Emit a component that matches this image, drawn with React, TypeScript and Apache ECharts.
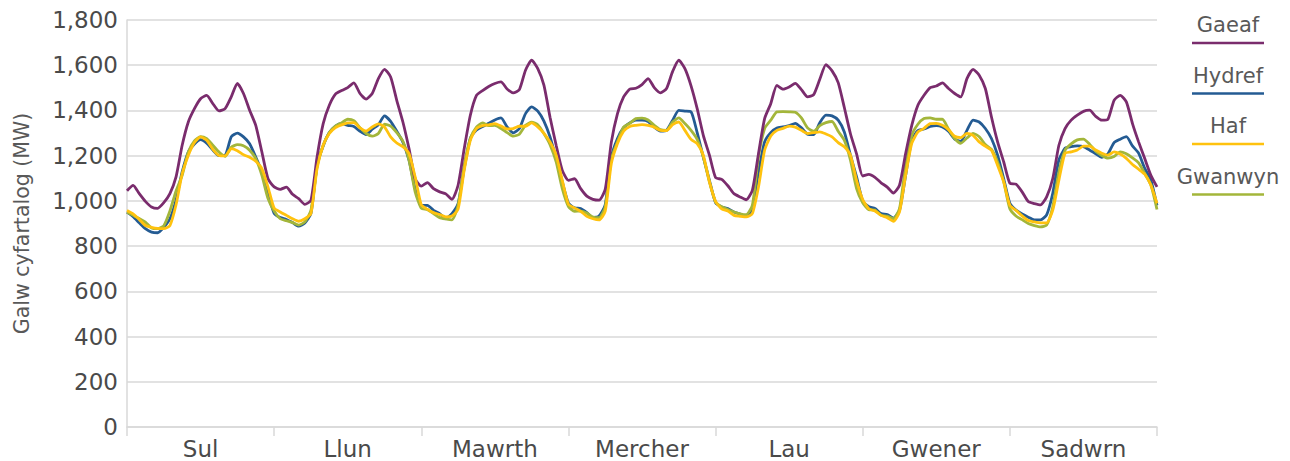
import React, { useEffect, useRef } from "react";
import * as echarts from "echarts";

const days = ["Sul", "Llun", "Mawrth", "Mercher", "Lau", "Gwener", "Sadwrn"];
const seriesNames = ["Gaeaf", "Hydref", "Haf", "Gwanwyn"];
const seriesColors = ["#7A2C6D", "#245B93", "#FFC20E", "#A3B63A"];
const yMin = 0;
const yMax = 1800;
const yStep = 200;
const yAxisTitle = "Galw cyfartalog (MW)";

// hourly averages, 24 values per day (Sul..Sadwrn) plus the closing value
const gaeaf = [
  1045, 1069, 1032, 998, 973, 967, 992, 1032, 1106, 1246, 1349, 1408, 1452, 1467, 1430, 1398, 1408, 1460, 1520, 1475, 1401, 1334, 1216, 1098,
  1062, 1051, 1061, 1029, 1010, 985, 1002, 1194, 1342, 1423, 1472, 1488, 1501, 1522, 1475, 1450, 1475, 1541, 1582, 1548, 1445, 1349, 1231, 1098,
  1065, 1081, 1054, 1040, 1031, 1007, 1069, 1231, 1379, 1467, 1488, 1506, 1519, 1526, 1495, 1478, 1492, 1578, 1622, 1585, 1512, 1370, 1246, 1135,
  1091, 1098, 1054, 1021, 1007, 1003, 1051, 1260, 1386, 1460, 1494, 1498, 1514, 1541, 1501, 1478, 1497, 1573, 1622, 1585, 1509, 1408, 1290, 1202,
  1103, 1095, 1067, 1032, 1017, 1005, 1047, 1209, 1364, 1430, 1511, 1494, 1504, 1520, 1492, 1460, 1470, 1538, 1603, 1575, 1523, 1413, 1297, 1208,
  1110, 1117, 1104, 1080, 1061, 1035, 1069, 1209, 1334, 1423, 1467, 1501, 1508, 1522, 1497, 1475, 1460, 1541, 1582, 1556, 1497, 1371, 1261, 1172,
  1078, 1074, 1040, 997, 988, 982, 1018, 1099, 1246, 1320, 1357, 1379, 1396, 1401, 1374, 1357, 1361, 1445, 1467, 1438, 1342, 1261, 1187, 1113,
  1062,
];
const hydref = [
  950, 930, 903, 877, 862, 859, 883, 921, 1004, 1128, 1216, 1252, 1271, 1255, 1225, 1200, 1202, 1283, 1300, 1283, 1253, 1194, 1128, 1032,
  945, 926, 918, 904, 888, 902, 944, 1157, 1243, 1302, 1331, 1343, 1334, 1329, 1308, 1293, 1317, 1337, 1376, 1352, 1308, 1260, 1180, 1054,
  980, 980, 958, 943, 921, 944, 988, 1143, 1276, 1313, 1329, 1343, 1358, 1367, 1327, 1301, 1320, 1386, 1416, 1397, 1353, 1283, 1187, 1084,
  990, 969, 966, 948, 927, 933, 983, 1194, 1276, 1324, 1345, 1357, 1357, 1351, 1326, 1309, 1312, 1357, 1400, 1397, 1394, 1302, 1194, 1091,
  992, 973, 966, 951, 942, 932, 966, 1128, 1261, 1302, 1322, 1327, 1333, 1343, 1323, 1295, 1293, 1346, 1379, 1376, 1357, 1305, 1202, 1106,
  1000, 974, 966, 944, 940, 924, 958, 1113, 1268, 1311, 1318, 1329, 1333, 1327, 1308, 1273, 1264, 1312, 1357, 1349, 1320, 1276, 1202, 1098,
  990, 960, 942, 928, 916, 916, 938, 1034, 1181, 1233, 1240, 1243, 1240, 1225, 1208, 1193, 1208, 1258, 1273, 1284, 1243, 1211, 1144, 1092,
  980,
];
const haf = [
  958, 943, 918, 891, 883, 878, 877, 891, 983, 1120, 1201, 1258, 1283, 1268, 1228, 1201, 1199, 1231, 1222, 1204, 1193, 1175, 1143, 1061,
  968, 951, 936, 921, 910, 921, 944, 1143, 1246, 1298, 1324, 1336, 1345, 1346, 1323, 1309, 1327, 1341, 1327, 1283, 1256, 1240, 1209, 1106,
  983, 963, 948, 940, 929, 933, 963, 1135, 1268, 1320, 1333, 1336, 1342, 1331, 1318, 1320, 1330, 1330, 1345, 1327, 1299, 1261, 1202, 1091,
  985, 969, 954, 932, 921, 916, 954, 1165, 1254, 1308, 1329, 1334, 1337, 1334, 1326, 1312, 1311, 1337, 1349, 1312, 1272, 1253, 1202, 1084,
  998, 965, 955, 936, 932, 929, 944, 1062, 1224, 1287, 1312, 1321, 1331, 1326, 1312, 1298, 1302, 1305, 1296, 1283, 1258, 1239, 1202, 1091,
  1006, 965, 955, 936, 926, 910, 951, 1113, 1254, 1305, 1321, 1342, 1343, 1334, 1315, 1286, 1280, 1299, 1290, 1261, 1242, 1224, 1157, 1084,
  980, 958, 934, 913, 907, 903, 903, 959, 1092, 1210, 1217, 1225, 1242, 1242, 1225, 1211, 1202, 1217, 1207, 1188, 1161, 1140, 1118, 1070,
  989,
];
const gwanwyn = [
  950, 936, 922, 906, 880, 877, 890, 955, 1044, 1113, 1216, 1265, 1284, 1275, 1246, 1216, 1197, 1237, 1249, 1244, 1224, 1187, 1113, 1010,
  955, 921, 912, 904, 893, 907, 958, 1150, 1246, 1302, 1331, 1345, 1361, 1355, 1324, 1298, 1286, 1298, 1339, 1331, 1302, 1264, 1180, 1040,
  968, 961, 944, 926, 920, 916, 980, 1157, 1276, 1326, 1345, 1333, 1334, 1320, 1302, 1286, 1295, 1334, 1348, 1337, 1298, 1249, 1172, 1054,
  975, 954, 955, 946, 929, 926, 973, 1187, 1261, 1327, 1343, 1364, 1366, 1358, 1334, 1315, 1312, 1349, 1367, 1342, 1312, 1272, 1194, 1084,
  995, 974, 962, 951, 943, 939, 980, 1194, 1320, 1357, 1394, 1395, 1394, 1392, 1367, 1323, 1308, 1333, 1346, 1351, 1308, 1268, 1180, 1054,
  992, 961, 959, 936, 933, 921, 966, 1157, 1290, 1339, 1364, 1367, 1361, 1361, 1317, 1276, 1255, 1278, 1299, 1284, 1249, 1228, 1172, 1084,
  965, 933, 917, 900, 891, 885, 893, 974, 1128, 1224, 1252, 1270, 1273, 1251, 1220, 1201, 1189, 1196, 1217, 1208, 1190, 1168, 1121, 1070,
  962,
];

const seriesValues = [gaeaf, hydref, haf, gwanwyn];
const drawOrder = [3, 1, 4, 2]; // yellow drawn over green, green over blue

const FONT = "'DejaVu Sans', 'Open Sans', sans-serif";
const TEXT = "#4A4A4A";
const GRID = "#D9D9D9";

function toPoints(vals: number[]) {
  return vals.map((v, i) => [i / 24, v]);
}

export default function App() {
  const ref = useRef<HTMLDivElement>(null);
  useEffect(() => {
    if (!ref.current) return;
    const chart = echarts.init(ref.current, undefined, { renderer: "svg" });
    const legendX = 1228;
    const legendGraphics: any[] = [];
    seriesNames.forEach((name, i) => {
      const top = 25 + 50.5 * i;
      legendGraphics.push({
        type: "text",
        x: legendX,
        y: top,
        style: {
          text: name,
          fill: "#595959",
          font: `21px ${FONT}`,
          textAlign: "center",
          textVerticalAlign: "middle",
        },
      });
      legendGraphics.push({
        type: "line",
        shape: { x1: legendX - 36, y1: top + 18, x2: legendX + 36, y2: top + 18 },
        style: { stroke: seriesColors[i], lineWidth: 2.5 },
      });
    });
    chart.setOption({
      animation: false,
      backgroundColor: "#ffffff",
      grid: { left: 127, right: 133, top: 20, bottom: 34, containLabel: false },
      xAxis: [
        {
          type: "value",
          min: 0,
          max: days.length,
          interval: 1,
          position: "bottom",
          axisLine: { show: true, lineStyle: { color: GRID, width: 1.5 } },
          axisTick: { show: true, length: 9, lineStyle: { color: GRID, width: 1.5 } },
          axisLabel: { show: false },
          splitLine: { show: false },
        },
        {
          type: "category",
          data: days,
          position: "bottom",
          boundaryGap: true,
          axisLine: { show: false },
          axisTick: { show: false },
          axisLabel: { color: TEXT, fontSize: 23, lineHeight: 23, fontFamily: FONT, margin: 10 },
          splitLine: { show: false },
        },
      ],
      yAxis: {
        type: "value",
        min: yMin,
        max: yMax,
        interval: yStep,
        name: yAxisTitle,
        nameLocation: "middle",
        nameGap: 95,
        nameTextStyle: { color: "#595959", fontSize: 20.5, fontFamily: FONT },
        axisLine: { show: true, lineStyle: { color: GRID, width: 1.5 } },
        axisTick: { show: false },
        axisLabel: {
          color: TEXT,
          fontSize: 23,
          fontFamily: FONT,
          margin: 9,
          formatter: (v: number) => v.toLocaleString("en-US"),
        },
        splitLine: { show: true, lineStyle: { color: GRID, width: 1.5 } },
      },
      series: seriesNames.map((name, i) => ({
        name,
        type: "line",
        xAxisIndex: 0,
        data: toPoints(seriesValues[i]),
        showSymbol: false,
        smooth: 0.2,
        z: drawOrder[i],
        lineStyle: { color: seriesColors[i], width: 2.8 },
        itemStyle: { color: seriesColors[i] },
      })),
      graphic: legendGraphics,
    });
    return () => chart.dispose();
  }, []);
  return (
    <div
      ref={ref}
      style={{ position: "fixed", left: 0, top: 0, width: 1290, height: 461, background: "#fff" }}
    />
  );
}
